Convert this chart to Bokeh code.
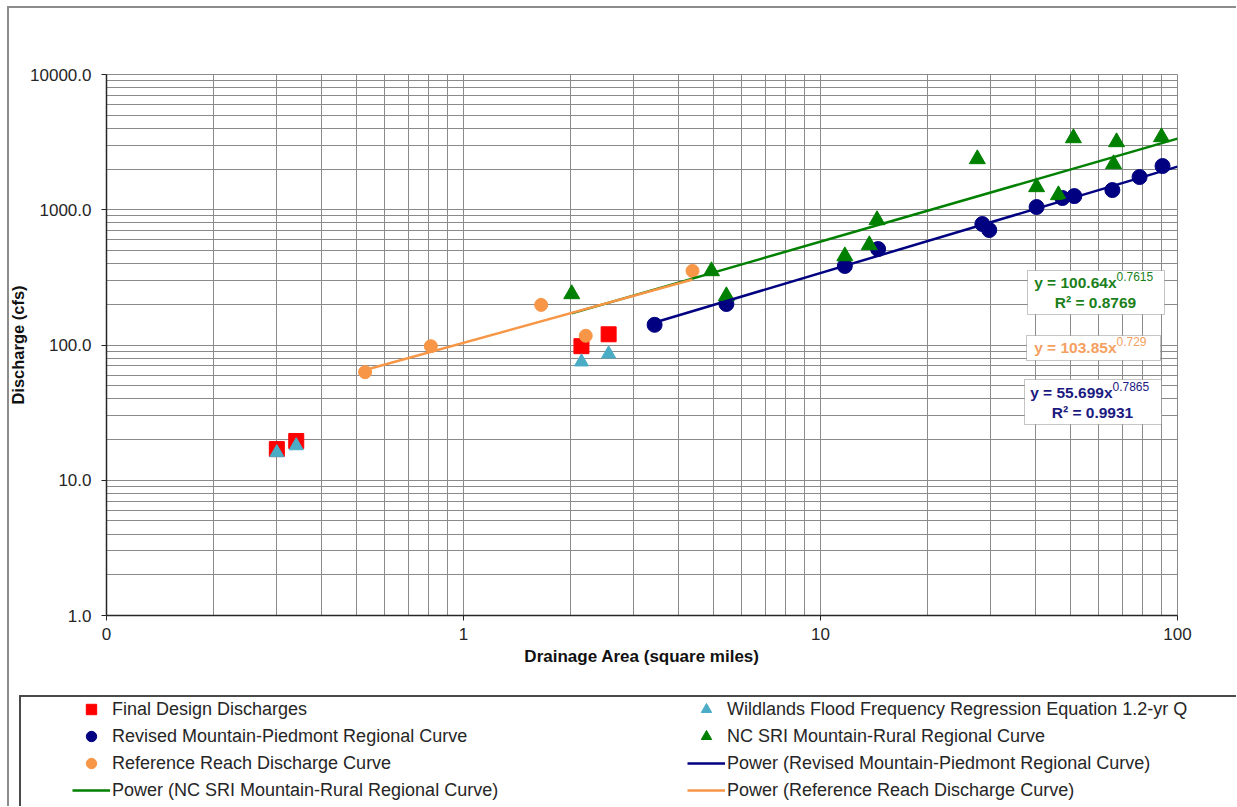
from bokeh.plotting import figure
from bokeh.models import FixedTicker, Legend, LegendItem, Label, BoxAnnotation, Range1d
from bokeh.embed import file_html
from bokeh.resources import INLINE

# ---------------- data ----------------
final_x = [0.30, 0.34, 2.14, 2.55]
final_y = [17.0, 19.5, 98.0, 120.0]

wild_x = [0.30, 0.34, 2.14, 2.55]
wild_y = [16.0, 18.0, 75.0, 86.0]

rev_x = [3.43, 5.45, 11.7, 14.5, 28.4, 29.7, 40.3, 47.6, 51.4, 65.7, 78.3, 90.8]
rev_y = [141, 201, 384, 512, 784, 708, 1047, 1221, 1262, 1398, 1745, 2104]

nc_x = [2.01, 4.95, 5.45, 11.7, 13.7, 14.4, 27.5, 40.3, 46.4, 51.1, 66.2, 67.5, 90.2]
nc_y = [238, 352, 230, 454, 548, 839, 2370, 1472, 1284, 3388, 2177, 3166, 3446]

ref_x = [0.53, 0.81, 1.65, 2.20, 4.38]
ref_y = [63, 98, 198, 117, 353]

# power trendlines y = a * x^b (coefficients as printed on the chart) and x extent
rev_fit = (55.699, 0.7865)
rev_fit_x = [3.43, 100.0]
nc_fit = (100.64, 0.7615)
nc_fit_x = [2.01, 100.0]
ref_fit = (103.85, 0.729)
ref_fit_x = [0.53, 4.38]

x_major = [0.1, 1, 10, 100]
x_labels = ["0", "1", "10", "100"]
y_major = [1, 10, 100, 1000, 10000]
y_labels = ["1.0", "10.0", "100.0", "1000.0", "10000.0"]
minor_mult = [2, 3, 4, 5, 6, 7, 8, 9]

x_title = "Drainage Area (square miles)"
y_title = "Discharge (cfs)"

eq_rev = ("y = 55.699x", "0.7865", "R\u00b2 = 0.9931")
eq_nc = ("y = 100.64x", "0.7615", "R\u00b2 = 0.8769")
eq_ref = ("y = 103.85x", "0.729")

names = {
    "final": "Final Design Discharges",
    "wild": "Wildlands Flood Frequency Regression Equation 1.2-yr Q",
    "rev": "Revised Mountain-Piedmont Regional Curve",
    "nc": "NC SRI Mountain-Rural Regional Curve",
    "ref": "Reference Reach Discharge Curve",
    "p_rev": "Power (Revised Mountain-Piedmont Regional Curve)",
    "p_nc": "Power (NC SRI Mountain-Rural Regional Curve)",
    "p_ref": "Power (Reference Reach Discharge Curve)",
}

# ---------------- layout ----------------
W, H = 1236, 695          # main chart
H2 = 111                  # legend strip
FL, FR, FT, FB = 106, 1177, 74, 615
FONT = "Liberation Sans"
GRID = "#8a8a8a"
DARK = "#262626"
BORDER = "#8c8c8c"
LEGBOX = "#4a4a4a"

STY = {
    "final": dict(marker="square", size=15, fill_color="#FF0000", line_color="#FF0000"),
    "wild": dict(marker="triangle", size=14, fill_color="#4BACC6", line_color="#4BACC6"),
    "rev": dict(marker="circle", size=15, fill_color="#000080", line_color="#000080"),
    "nc": dict(marker="triangle", size=16, fill_color="#008000", line_color="#008000"),
    "ref": dict(marker="circle", size=13, fill_color="#F79646", line_color="#F79646"),
    "p_rev": dict(line_color="#000080", line_width=2.5),
    "p_nc": dict(line_color="#008000", line_width=2.5),
    "p_ref": dict(line_color="#F79646", line_width=2.5),
}


def dx(fx):
    return 10 ** (-1 + 3 * (fx - FL) / (FR - FL))


def dy(fy):
    return 10 ** (4 * (FB - fy) / (FB - FT))


def power_line(fit, xs):
    a, b = fit
    return xs, [a * x ** b for x in xs]


series = {
    "final": (final_x, final_y),
    "wild": (wild_x, wild_y),
    "rev": (rev_x, rev_y),
    "nc": (nc_x, nc_y),
    "ref": (ref_x, ref_y),
    "p_rev": power_line(rev_fit, rev_fit_x),
    "p_nc": power_line(nc_fit, nc_fit_x),
    "p_ref": power_line(ref_fit, ref_fit_x),
}
draw_order = ["final", "wild", "rev", "nc", "ref", "p_rev", "p_nc", "p_ref"]


def draw_series(fig):
    out = {}
    for k in draw_order:
        xs, ys = series[k]
        if k.startswith("p_"):
            out[k] = fig.line(xs, ys, **STY[k])
        else:
            out[k] = fig.scatter(xs, ys, **STY[k])
    return out


def css_line(color, x, y, w, h):
    return f"linear-gradient({color},{color}) {x} {y} / {w} {h} no-repeat"


# outer chart border (left and top edges) drawn as CSS background behind a
# transparent canvas border area
p_bg = ", ".join([css_line(BORDER, "7px", "6px", "2px", "100%"),
                  css_line(BORDER, "7px", "6px", "100%", "2px"), "white"])

p = figure(width=W, height=H, x_axis_type="log", y_axis_type="log",
           x_range=(x_major[0], x_major[-1]), y_range=(y_major[0], y_major[-1]),
           output_backend="svg", toolbar_location=None,
           min_border_left=FL, min_border_right=W - FR,
           min_border_top=FT, min_border_bottom=H - FB,
           styles={"background": p_bg})
p.background_fill_color = "white"
p.border_fill_color = None
p.outline_line_color = GRID
p.outline_line_width = 1

xt = FixedTicker(ticks=x_major,
                 minor_ticks=[m * d for d in x_major[:-1] for m in minor_mult])
yt = FixedTicker(ticks=y_major,
                 minor_ticks=[m * d for d in y_major[:-1] for m in minor_mult])
p.xaxis.ticker = xt
p.yaxis.ticker = yt
p.xgrid.ticker = xt
p.ygrid.ticker = yt
p.xaxis.major_label_overrides = dict(zip(x_major, x_labels))
p.yaxis.major_label_overrides = dict(zip(y_major, y_labels))

for g in (p.xgrid, p.ygrid):
    g.grid_line_color = GRID
    g.grid_line_width = 1
    g.minor_grid_line_color = GRID
    g.minor_grid_line_width = 1

for ax in (p.xaxis, p.yaxis):
    ax.axis_line_color = DARK
    ax.axis_line_width = 1.5
    ax.major_tick_line_color = DARK
    ax.major_tick_in = 0
    ax.major_tick_out = 5
    ax.minor_tick_line_color = None
    ax.major_label_text_font = FONT
    ax.major_label_text_font_size = "17px"
    ax.major_label_text_color = DARK
    ax.axis_label_text_font = FONT
    ax.axis_label_text_font_style = "bold"
    ax.axis_label_text_color = "#111111"

p.xaxis.axis_label = x_title
p.xaxis.axis_label_text_font_size = "17px"
p.xaxis.major_label_standoff = 7
p.xaxis.axis_label_standoff = 4
p.yaxis.axis_label = y_title
p.yaxis.axis_label_text_font_size = "16.5px"
p.yaxis.major_label_standoff = 10
p.yaxis.axis_label_standoff = 0

draw_series(p)


# ---------------- equation boxes ----------------
def eq_box(l, r, t, b):
    p.add_layout(BoxAnnotation(left=dx(l), right=dx(r), top=dy(t), bottom=dy(b),
                               fill_color="white", fill_alpha=1,
                               line_color="#404040", line_width=1))


def lab(x, y, text, color, size="15.5px", align="left", style="bold"):
    p.add_layout(Label(x=dx(x), y=dy(y), text=text, text_color=color,
                       text_font=FONT, text_font_size=size, text_font_style=style,
                       text_align=align, text_baseline="middle"))


# green (NC SRI)
eq_box(1027, 1164, 270, 314)
lab(1116, 282, eq_nc[0], "#1B7F1B", align="right")
lab(1116, 276, eq_nc[1], "#1B7F1B", size="12px", style="normal")
lab(1095, 302, eq_nc[2], "#1B7F1B", align="center")
# orange (reference reach)
eq_box(1026, 1160, 335, 360)
lab(1116, 347, eq_ref[0], "#F5A060", align="right")
lab(1116, 341, eq_ref[1], "#F5A060", size="12px", style="normal")
# navy (revised)
eq_box(1024, 1161, 379, 424)
lab(1112, 392, eq_rev[0], "#1A1A80", align="right")
lab(1112, 386, eq_rev[1], "#1A1A80", size="12px", style="normal")
lab(1092, 412, eq_rev[2], "#1A1A80", align="center")

# ---------------- legend strip ----------------
# same series drawn again, all outside this strip's tiny visible range,
# so only their legend glyphs show
LL = 19
q_bg = ", ".join([css_line(BORDER, "7px", "0", "2px", "100%"),
                  css_line(LEGBOX, f"{LL}px", "0", "2px", "100%"),
                  css_line(LEGBOX, f"{LL}px", "0", "100%", "2px"), "white"])
q = figure(width=W, height=H2, x_range=Range1d(0, 0.01), y_range=Range1d(0, 0.01),
           output_backend="svg", toolbar_location=None,
           x_axis_location=None, y_axis_location=None,
           min_border_left=LL + 2, min_border_right=0, min_border_top=2, min_border_bottom=0,
           styles={"background": q_bg})
q.grid.visible = False
q.background_fill_color = None
q.border_fill_color = None
q.outline_line_color = None

lr = draw_series(q)

order = ["final", "rev", "ref", "p_nc", "wild", "nc", "p_rev", "p_ref"]
items = [LegendItem(label=names[k], renderers=[lr[k]]) for k in order]
legend = Legend(items=items, ncols=2, orientation="vertical",
                location=(72 - (LL + 2), 3), margin=0, padding=0,
                spacing=1, glyph_width=38, glyph_height=26, label_height=20,
                label_standoff=2, label_width=574,
                label_text_font=FONT, label_text_font_size="18px",
                label_text_color=DARK,
                background_fill_alpha=0, border_line_alpha=0)
q.add_layout(legend)

open("out.html", "w").write(file_html([p, q], INLINE))
